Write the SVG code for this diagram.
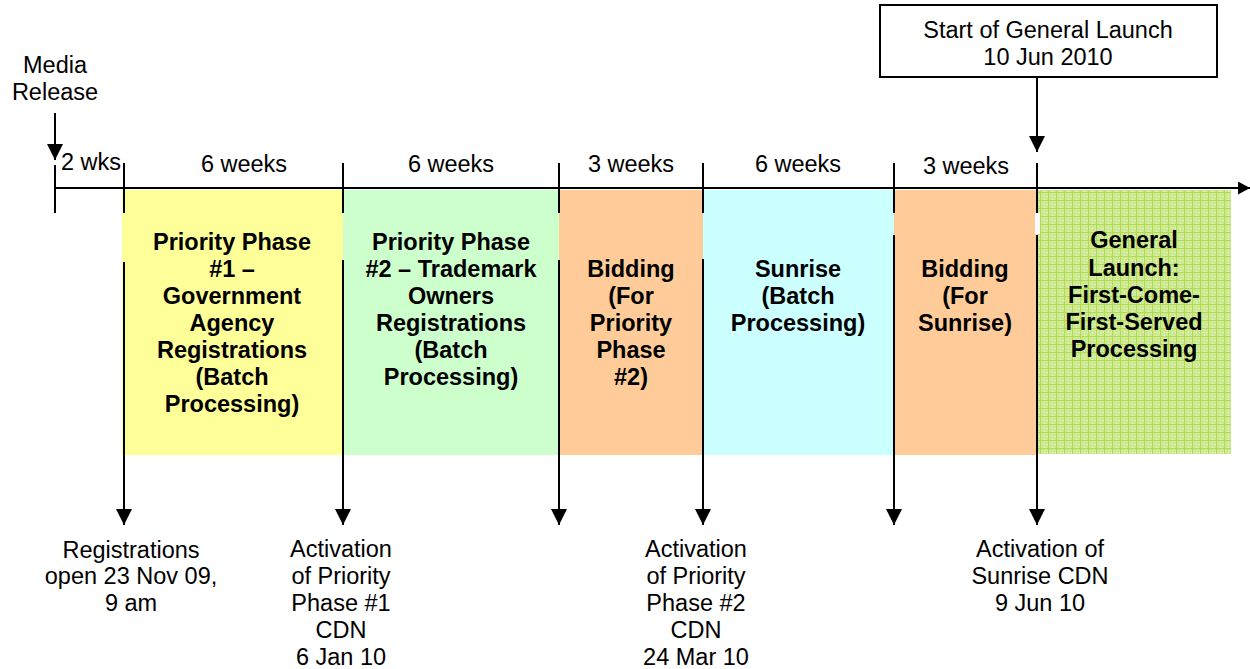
<svg xmlns="http://www.w3.org/2000/svg" width="1250" height="669" viewBox="0 0 1250 669">
<style>
text{font-family:"Liberation Sans",Arial,sans-serif;font-size:23.5px;fill:#000;text-anchor:middle}
.b{font-weight:bold}
.ln{stroke:#000;stroke-width:2;fill:none}
</style>
<defs>
<marker id="ah" viewBox="0 0 16 16" refX="16" refY="8" markerWidth="16" markerHeight="16" markerUnits="userSpaceOnUse" orient="auto">
<path d="M0,0 L16,8 L0,16 Z" fill="#000"/>
</marker>
<marker id="ax" viewBox="0 0 12 13" refX="12" refY="6.5" markerWidth="12" markerHeight="13" markerUnits="userSpaceOnUse" orient="auto">
<path d="M0,0 L12,6.5 L0,13 Z" fill="#000"/>
</marker>
<pattern id="grid" width="8" height="8" patternUnits="userSpaceOnUse">
<rect width="8" height="8" fill="#cde991"/>
<path d="M0,0.5 H8 M0.5,0 V8" stroke="#b2da55" stroke-width="1"/>
<path d="M4,4.5 H8 M4.5,4 V8" stroke="#e8f6cc" stroke-width="1" stroke-dasharray="1,2"/>
</pattern>
</defs>
<g id="boxes">
<g id="phase1"><rect x="122" y="190" width="221" height="265" fill="#ffff99"/>
<text class="b" x="232" y="250">Priority Phase</text><text class="b" x="232" y="277">#1 –</text><text class="b" x="232" y="304">Government</text><text class="b" x="232" y="331">Agency</text><text class="b" x="232" y="358">Registrations</text><text class="b" x="232" y="385">(Batch</text><text class="b" x="232" y="412">Processing)</text></g>
<g id="phase2"><rect x="343" y="190" width="216" height="265" fill="#ccffcc"/>
<text class="b" x="451" y="250">Priority Phase</text><text class="b" x="451" y="277">#2 – Trademark</text><text class="b" x="451" y="304">Owners</text><text class="b" x="451" y="331">Registrations</text><text class="b" x="451" y="358">(Batch</text><text class="b" x="451" y="385">Processing)</text></g>
<g id="bidding1"><rect x="559" y="190" width="144" height="265" fill="#ffcc99"/>
<text class="b" x="631" y="277">Bidding</text><text class="b" x="631" y="304">(For</text><text class="b" x="631" y="331">Priority</text><text class="b" x="631" y="358">Phase</text><text class="b" x="631" y="385">#2)</text></g>
<g id="sunrise"><rect x="703" y="190" width="191" height="265" fill="#ccffff"/>
<text class="b" x="798" y="277">Sunrise</text><text class="b" x="798" y="304">(Batch</text><text class="b" x="798" y="331">Processing)</text></g>
<g id="bidding2"><rect x="894" y="190" width="143" height="265" fill="#ffcc99"/>
<text class="b" x="965" y="277">Bidding</text><text class="b" x="965" y="304">(For</text><text class="b" x="965" y="331">Sunrise)</text></g>
<g id="general"><rect x="1037" y="190" width="194" height="264" fill="url(#grid)"/>
<rect x="1035" y="213" width="5" height="21" fill="#fff"/>
<text class="b" x="1134" y="248">General</text><text class="b" x="1134" y="276">Launch:</text><text class="b" x="1134" y="303">First-Come-</text><text class="b" x="1134" y="330">First-Served</text><text class="b" x="1134" y="357">Processing</text></g>
</g>
<g id="startbox"><rect x="880" y="5" width="337" height="72" fill="#fff" stroke="#000" stroke-width="2"/>
<text x="1048" y="38">Start of General Launch</text><text x="1048" y="65">10 Jun 2010</text></g>
<g id="media"><text x="55" y="73">Media</text><text x="55" y="100">Release</text></g>
<g id="connectors">
<line class="ln" x1="55" y1="188" x2="1250" y2="188" marker-end="url(#ax)"/>
<line class="ln" x1="55" y1="165" x2="55" y2="213"/>
<line class="ln" x1="124" y1="163" x2="124" y2="213"/>
<line class="ln" x1="343" y1="163" x2="343" y2="213"/>
<line class="ln" x1="559" y1="163" x2="559" y2="213"/>
<line class="ln" x1="703" y1="163" x2="703" y2="213"/>
<line class="ln" x1="894" y1="163" x2="894" y2="213"/>
<line class="ln" x1="1037" y1="163" x2="1037" y2="213"/>
<line class="ln" x1="55" y1="113" x2="55" y2="160" marker-end="url(#ah)"/>
<line class="ln" x1="1037" y1="78" x2="1037" y2="152" marker-end="url(#ah)"/>
<line class="ln" x1="124" y1="262" x2="124" y2="525" marker-end="url(#ah)"/>
<line class="ln" x1="343" y1="260" x2="343" y2="525" marker-end="url(#ah)"/>
<line class="ln" x1="559" y1="260" x2="559" y2="525" marker-end="url(#ah)"/>
<line class="ln" x1="703" y1="259" x2="703" y2="525" marker-end="url(#ah)"/>
<line class="ln" x1="894" y1="235" x2="894" y2="525" marker-end="url(#ah)"/>
<line class="ln" x1="1037" y1="235" x2="1037" y2="525" marker-end="url(#ah)"/>
</g>
<g id="durations">
<text x="91" y="170">2 wks</text>
<text x="244" y="172">6 weeks</text>
<text x="451" y="172">6 weeks</text>
<text x="631" y="172">3 weeks</text>
<text x="798" y="172">6 weeks</text>
<text x="966" y="174">3 weeks</text>
</g>
<g id="dates">
<text x="131" y="558">Registrations</text><text x="131" y="584">open 23 Nov 09,</text><text x="131" y="611">9 am</text>
<text x="341" y="557">Activation</text><text x="341" y="584">of Priority</text><text x="341" y="611">Phase #1</text><text x="341" y="638">CDN</text><text x="341" y="665">6 Jan 10</text>
<text x="696" y="557">Activation</text><text x="696" y="584">of Priority</text><text x="696" y="611">Phase #2</text><text x="696" y="638">CDN</text><text x="696" y="665">24 Mar 10</text>
<text x="1040" y="557">Activation of</text><text x="1040" y="584">Sunrise CDN</text><text x="1040" y="611">9 Jun 10</text>
</g>
</svg>
